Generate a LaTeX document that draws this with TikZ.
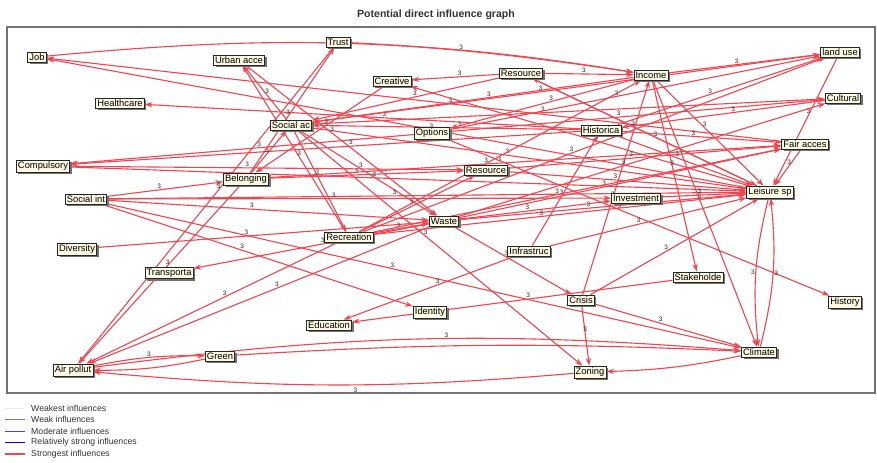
\documentclass[tikz,border=0pt]{standalone}
\usepackage{fontspec}
\setmainfont{Liberation Sans}
\usetikzlibrary{arrows.meta,shadows}

\definecolor{strongest}{RGB}{240,70,82}
\definecolor{boxfill}{RGB}{252,250,226}

\pgfdeclarelayer{links}
\pgfsetlayers{links,main}

\tikzset{
  var/.style={draw=black!85, fill=boxfill, inner xsep=1.4pt, inner ysep=1.4pt,
    font=\fontsize{8}{9}\selectfont, line width=0.6pt,
    drop shadow={shadow xshift=1.8pt, shadow yshift=-1.8pt, fill=black!55, opacity=1}},
  infl/.style={draw=strongest, line width=0.95pt, -{Stealth[length=6.5pt,width=4.5pt]}},
  val/.style={font=\fontsize{5.5}{6}\selectfont, inner sep=0.6pt, text=black!85, above},
  legtext/.style={anchor=west, font=\fontsize{7.4}{8}\selectfont, text=black!80, inner sep=0pt},
}

\begin{document}
\begin{tikzpicture}[x=0.03cm, y=-0.03cm]
    \useasboundingbox (0,0) rectangle (877,462);

    % Title and frame
    \node[font=\bfseries\fontsize{9}{10}\selectfont, text=black!80] (title) at (436,15) {Potential direct influence graph};
    \draw[black!55, line width=1pt] (7,27) rectangle (875,393);

    % Variables
    \node[var] (job)      at (37,57)   {Job};
    \node[var] (urban)    at (239,60)  {Urban acce};
    \node[var] (trust)    at (338,42)  {Trust};
    \node[var] (creative) at (392,81)  {Creative};
    \node[var] (resA)     at (521,73)  {Resource};
    \node[var] (income)   at (651,75)  {Income};
    \node[var] (landuse)  at (840,52)  {land use};
    \node[var] (cultural) at (843,98)  {Cultural};
    \node[var] (health)   at (120,103) {Healthcare};
    \node[var] (socac)    at (291,125) {Social ac};
    \node[var] (options)  at (432,133) {Options};
    \node[var] (histc)    at (601,130) {Historica};
    \node[var] (fair)     at (805,144) {Fair acces};
    \node[var] (compul)   at (43,166)  {Compulsory};
    \node[var] (belong)   at (246,179) {Belonging};
    \node[var] (resB)     at (486,170) {Resource};
    \node[var] (socint)   at (86,199)  {Social int};
    \node[var] (invest)   at (636,198) {Investment};
    \node[var] (leisure)  at (770,192) {Leisure sp};
    \node[var] (waste)    at (444,221) {Waste};
    \node[var] (recre)    at (349,237) {Recreation};
    \node[var] (infra)    at (529,251) {Infrastruc};
    \node[var] (divers)   at (77,249)  {Diversity};
    \node[var] (transp)   at (169,273) {Transporta};
    \node[var] (stake)    at (698,277) {Stakeholde};
    \node[var] (crisis)   at (581,300) {Crisis};
    \node[var] (history)  at (845,302) {History};
    \node[var] (educ)     at (329,325) {Education};
    \node[var] (ident)    at (430,312) {Identity};
    \node[var] (green)    at (220,356) {Green};
    \node[var] (climate)  at (759,352) {Climate};
    \node[var] (air)      at (73,370)  {Air pollut};
    \node[var] (zoning)   at (590,372) {Zoning};

    \begin{pgfonlayer}{links}
    % Direct influences (all of the strongest kind)
    \foreach \a/\b in {fair/job, leisure/job, histc/health, options/compul, histc/compul,
        compul/resB, compul/leisure, belong/socac, socint/belong, belong/trust, belong/resB,
        belong/fair, belong/air, trust/air, socac/recre, socac/zoning, socac/waste,
        socac/landuse, socac/cultural, socac/urban, socac/leisure, income/socac, histc/socac,
        resA/socac, resA/creative, leisure/resA, leisure/creative, creative/belong,
        urban/waste, recre/urban, income/options, options/landuse, options/history,
        options/cultural, socint/leisure, socint/invest, socint/waste, socint/ident,
        socint/climate, divers/waste, waste/transp, recre/air, waste/air, infra/educ,
        stake/educ, waste/crisis, crisis/zoning, crisis/climate, crisis/leisure,
        crisis/income, income/stake, income/climate, income/landuse, income/leisure,
        resA/income, resA/leisure, histc/fair, histc/leisure, histc/landuse, cultural/histc,
        infra/histc, infra/leisure, resB/leisure, resB/fair, invest/leisure, waste/leisure,
        waste/invest, waste/fair, waste/cultural, recre/waste, recre/resB, recre/fair,
        recre/leisure, recre/income, recre/landuse, landuse/leisure, fair/leisure}
        \draw[infl] (\a) -- node[val, pos=.45] {3} (\b);

    % Curved influences
    \draw[infl] (job) to[bend left=7] node[val, pos=.72] {3} (income);
    \draw[infl] (trust) to[bend left=3] (income);
    \draw[infl] (leisure) to[bend right=10] node[val, left, pos=.5] {3} (climate);
    \draw[infl] (climate) to[bend right=10] node[val, right, pos=.5] {3} (leisure);
    \draw[infl] (air) to[bend left=6] node[val, pos=.55] {3} (climate);
    \draw[infl] (green) to[bend left=3] (climate);
    \draw[infl] (zoning) to[bend left=5] node[val, below=2pt, pos=.45] {3} (air);
    \draw[infl] (climate) to[bend left=5] (zoning);
    \draw[infl] (air) to[bend left=6] node[val, pos=.5] {3} (green);
    \draw[infl] (green) to[bend left=6] (air);
    \end{pgfonlayer}

    % Legend
    \foreach \c/\w/\t [count=\i] in {black!8/0.5pt/Weakest influences,
        black!50/0.5pt/Weak influences, blue!75/0.5pt/Moderate influences,
        blue!85!black/1.1pt/Relatively strong influences, strongest/1.3pt/Strongest influences}
    {
        \draw[\c, line width=\w] (5,396.5+11.5*\i) -- (25,396.5+11.5*\i);
        \node[legtext] (leg\i) at (31,396.5+11.5*\i) {\t};
    }

\end{tikzpicture}
\end{document}
